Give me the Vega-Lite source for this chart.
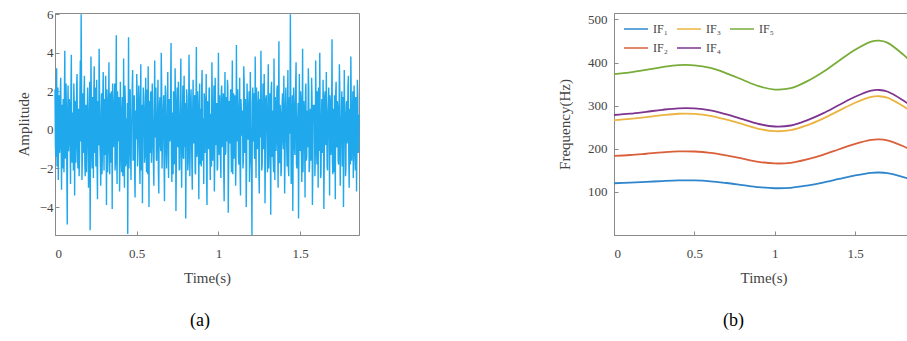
{
"$schema": "https://vega.github.io/schema/vega-lite/v6.json",
"padding": {"left": 15, "top": 7, "right": 0, "bottom": 0},
"spacing": 194,
"config": {
"font": "Liberation Serif",
"view": {"stroke": "#8a8a8a", "strokeWidth": 1},
"axis": {"grid": false, "domainColor": "#8a8a8a", "tickColor": "#8a8a8a", "tickSize": -4, "labelFontSize": 13, "labelColor": "#444444", "titleFontSize": 15, "titleColor": "#444444", "titleFontWeight": "normal", "labelFont": "Liberation Serif", "titleFont": "Liberation Serif"},
"legend": {"labelFont": "Liberation Serif"},
"title": {"font": "Liberation Serif", "fontSize": 18, "fontWeight": "normal", "color": "#000000"}
},
"resolve": {"scale": {"color": "independent"}, "legend": {"color": "independent"}},
"hconcat": [
{
"width": 304, "height": 222,
"title": {"text": "(a)", "orient": "bottom", "offset": 27, "dx": -7},
"data": {"values": [
{"t":0,"a":2.1},{"t":0.005,"a":-1.4},{"t":0.01,"a":3.2},{"t":0.015,"a":0.5},{"t":0.02,"a":-2.6},{"t":0.025,"a":1.8},{"t":0.03,"a":-0.9},{"t":0.035,"a":2.7},{"t":0.04,"a":-3.1},{"t":0.045,"a":0.4},
{"t":0.05,"a":1.6},{"t":0.055,"a":-2.2},{"t":0.06,"a":4.1},{"t":0.065,"a":-1.0},{"t":0.07,"a":0.8},{"t":0.075,"a":-4.9},{"t":0.08,"a":2.3},{"t":0.085,"a":-0.6},{"t":0.09,"a":1.1},{"t":0.095,"a":-2.8},
{"t":0.1,"a":3.9},{"t":0.105,"a":-1.7},{"t":0.11,"a":0.2},{"t":0.115,"a":2.4},{"t":0.12,"a":-3.4},{"t":0.125,"a":1.5},{"t":0.13,"a":-0.3},{"t":0.135,"a":2.9},{"t":0.14,"a":-2.0},{"t":0.145,"a":0.9},
{"t":0.15,"a":-1.5},{"t":0.155,"a":3.6},{"t":0.16,"a":6.0},{"t":0.165,"a":-2.6},{"t":0.17,"a":1.9},{"t":0.175,"a":-1.2},{"t":0.18,"a":2.8},{"t":0.185,"a":-2.4},{"t":0.19,"a":1.3},{"t":0.195,"a":-0.7},
{"t":0.2,"a":2.2},{"t":0.205,"a":-3.0},{"t":0.21,"a":0.7},{"t":0.215,"a":-5.2},{"t":0.22,"a":3.8},{"t":0.225,"a":-1.1},{"t":0.23,"a":1.7},{"t":0.235,"a":-2.5},{"t":0.24,"a":3.3},{"t":0.245,"a":0.1},
{"t":0.25,"a":-1.9},{"t":0.255,"a":2.6},{"t":0.26,"a":-3.6},{"t":0.265,"a":1.2},{"t":0.27,"a":4.2},{"t":0.275,"a":-0.8},{"t":0.28,"a":-2.9},{"t":0.285,"a":1.9},{"t":0.29,"a":-1.3},{"t":0.295,"a":3.0},
{"t":0.3,"a":-2.1},{"t":0.305,"a":0.6},{"t":0.31,"a":2.8},{"t":0.315,"a":-3.9},{"t":0.32,"a":1.4},{"t":0.325,"a":-0.5},{"t":0.33,"a":3.5},{"t":0.335,"a":-2.3},{"t":0.34,"a":0.9},{"t":0.345,"a":2.0},
{"t":0.35,"a":-4.1},{"t":0.355,"a":1.1},{"t":0.36,"a":-0.2},{"t":0.365,"a":2.4},{"t":0.37,"a":-1.6},{"t":0.375,"a":4.9},{"t":0.38,"a":-2.8},{"t":0.385,"a":0.3},{"t":0.39,"a":1.7},{"t":0.395,"a":-3.2},
{"t":0.4,"a":2.5},{"t":0.405,"a":-1.0},{"t":0.41,"a":0.8},{"t":0.415,"a":-2.4},{"t":0.42,"a":3.7},{"t":0.425,"a":-3.0},{"t":0.43,"a":1.6},{"t":0.435,"a":0.2},{"t":0.44,"a":-1.8},{"t":0.445,"a":-5.4},
{"t":0.45,"a":4.8},{"t":0.455,"a":-0.9},{"t":0.46,"a":2.1},{"t":0.465,"a":-2.6},{"t":0.47,"a":0.5},{"t":0.475,"a":3.1},{"t":0.48,"a":-1.4},{"t":0.485,"a":1.8},{"t":0.49,"a":-3.5},{"t":0.495,"a":0.7},
{"t":0.5,"a":2.9},{"t":0.505,"a":-1.9},{"t":0.51,"a":0.4},{"t":0.515,"a":1.5},{"t":0.52,"a":-2.8},{"t":0.525,"a":3.4},{"t":0.53,"a":-0.6},{"t":0.535,"a":-3.8},{"t":0.54,"a":2.2},{"t":0.545,"a":0.9},
{"t":0.55,"a":-1.3},{"t":0.555,"a":2.7},{"t":0.56,"a":-2.2},{"t":0.565,"a":1.0},{"t":0.57,"a":3.3},{"t":0.575,"a":-4.0},{"t":0.58,"a":0.6},{"t":0.585,"a":1.9},{"t":0.59,"a":-1.7},{"t":0.595,"a":2.4},
{"t":0.6,"a":-0.4},{"t":0.605,"a":-2.9},{"t":0.61,"a":3.6},{"t":0.615,"a":1.2},{"t":0.62,"a":-1.5},{"t":0.625,"a":0.3},{"t":0.63,"a":2.6},{"t":0.635,"a":-3.3},{"t":0.64,"a":1.4},{"t":0.645,"a":-0.8},
{"t":0.65,"a":4.0},{"t":0.655,"a":-2.0},{"t":0.66,"a":0.7},{"t":0.665,"a":1.8},{"t":0.67,"a":-3.7},{"t":0.675,"a":2.3},{"t":0.68,"a":-1.1},{"t":0.685,"a":0.5},{"t":0.69,"a":3.0},{"t":0.695,"a":-2.5},
{"t":0.7,"a":1.6},{"t":0.705,"a":-0.3},{"t":0.71,"a":4.5},{"t":0.715,"a":-2.7},{"t":0.72,"a":0.9},{"t":0.725,"a":2.0},{"t":0.73,"a":-1.8},{"t":0.735,"a":3.2},{"t":0.74,"a":-4.2},{"t":0.745,"a":1.3},
{"t":0.75,"a":-0.6},{"t":0.755,"a":2.5},{"t":0.76,"a":-2.1},{"t":0.765,"a":0.4},{"t":0.77,"a":3.7},{"t":0.775,"a":-3.0},{"t":0.78,"a":1.0},{"t":0.785,"a":-1.4},{"t":0.79,"a":2.8},{"t":0.795,"a":-0.9},
{"t":0.8,"a":-4.6},{"t":0.805,"a":2.1},{"t":0.81,"a":0.8},{"t":0.815,"a":-1.7},{"t":0.82,"a":3.9},{"t":0.825,"a":-2.4},{"t":0.83,"a":1.5},{"t":0.835,"a":0.2},{"t":0.84,"a":-3.1},{"t":0.845,"a":2.6},
{"t":0.85,"a":-0.7},{"t":0.855,"a":1.8},{"t":0.86,"a":-2.3},{"t":0.865,"a":4.3},{"t":0.87,"a":-1.2},{"t":0.875,"a":0.6},{"t":0.88,"a":-3.6},{"t":0.885,"a":2.4},{"t":0.89,"a":1.1},{"t":0.895,"a":-1.9},
{"t":0.9,"a":3.1},{"t":0.905,"a":-0.5},{"t":0.91,"a":-2.8},{"t":0.915,"a":1.7},{"t":0.92,"a":0.4},{"t":0.925,"a":2.9},{"t":0.93,"a":-3.9},{"t":0.935,"a":1.2},{"t":0.94,"a":-1.0},{"t":0.945,"a":2.2},
{"t":0.95,"a":-2.6},{"t":0.955,"a":0.8},{"t":0.96,"a":3.5},{"t":0.965,"a":-1.6},{"t":0.97,"a":0.1},{"t":0.975,"a":-3.2},{"t":0.98,"a":2.7},{"t":0.985,"a":-0.8},{"t":0.99,"a":1.4},{"t":0.995,"a":-2.0},
{"t":1.0,"a":4.0},{"t":1.005,"a":-1.3},{"t":1.01,"a":0.6},{"t":1.015,"a":-2.5},{"t":1.02,"a":2.3},{"t":1.025,"a":-0.2},{"t":1.03,"a":1.9},{"t":1.035,"a":-3.7},{"t":1.04,"a":3.0},{"t":1.045,"a":-1.1},
{"t":1.05,"a":0.5},{"t":1.055,"a":2.6},{"t":1.06,"a":-4.3},{"t":1.065,"a":1.5},{"t":1.07,"a":-0.7},{"t":1.075,"a":2.1},{"t":1.08,"a":-2.2},{"t":1.085,"a":3.6},{"t":1.09,"a":0.3},{"t":1.095,"a":-1.5},
{"t":1.1,"a":1.8},{"t":1.105,"a":-2.9},{"t":1.11,"a":4.4},{"t":1.115,"a":-0.6},{"t":1.12,"a":0.9},{"t":1.125,"a":-1.8},{"t":1.13,"a":2.7},{"t":1.135,"a":-3.4},{"t":1.14,"a":1.1},{"t":1.145,"a":0.2},
{"t":1.15,"a":-2.0},{"t":1.155,"a":3.3},{"t":1.16,"a":-1.2},{"t":1.165,"a":1.6},{"t":1.17,"a":-4.0},{"t":1.175,"a":2.4},{"t":1.18,"a":-0.4},{"t":1.185,"a":1.0},{"t":1.19,"a":-2.7},{"t":1.195,"a":3.0},
{"t":1.2,"a":-1.6},{"t":1.205,"a":-5.45},{"t":1.21,"a":2.2},{"t":1.215,"a":0.7},{"t":1.22,"a":-1.3},{"t":1.225,"a":3.8},{"t":1.23,"a":-2.5},{"t":1.235,"a":1.4},{"t":1.24,"a":-0.1},{"t":1.245,"a":2.0},
{"t":1.25,"a":-3.3},{"t":1.255,"a":1.2},{"t":1.26,"a":4.1},{"t":1.265,"a":-2.1},{"t":1.27,"a":0.5},{"t":1.275,"a":-1.0},{"t":1.28,"a":2.9},{"t":1.285,"a":-3.8},{"t":1.29,"a":1.6},{"t":1.295,"a":0.4},
{"t":1.3,"a":-2.2},{"t":1.305,"a":3.4},{"t":1.31,"a":-0.9},{"t":1.315,"a":1.9},{"t":1.32,"a":-4.4},{"t":1.325,"a":2.5},{"t":1.33,"a":0.3},{"t":1.335,"a":-1.5},{"t":1.34,"a":3.7},{"t":1.345,"a":-2.6},
{"t":1.35,"a":1.0},{"t":1.355,"a":-0.4},{"t":1.36,"a":2.3},{"t":1.365,"a":-3.0},{"t":1.37,"a":4.6},{"t":1.375,"a":-1.7},{"t":1.38,"a":0.8},{"t":1.385,"a":-2.1},{"t":1.39,"a":1.5},{"t":1.395,"a":-0.6},
{"t":1.4,"a":2.8},{"t":1.405,"a":-3.3},{"t":1.41,"a":1.2},{"t":1.415,"a":0.1},{"t":1.42,"a":-1.9},{"t":1.425,"a":3.1},{"t":1.43,"a":-2.4},{"t":1.435,"a":1.7},{"t":1.44,"a":6.0},{"t":1.445,"a":-2.8},
{"t":1.45,"a":0.6},{"t":1.455,"a":-4.2},{"t":1.46,"a":2.2},{"t":1.465,"a":-0.8},{"t":1.47,"a":1.4},{"t":1.475,"a":3.5},{"t":1.48,"a":-2.0},{"t":1.485,"a":0.5},{"t":1.49,"a":-4.6},{"t":1.495,"a":2.9},
{"t":1.5,"a":-1.1},{"t":1.505,"a":1.6},{"t":1.51,"a":-2.7},{"t":1.515,"a":4.2},{"t":1.52,"a":-0.3},{"t":1.525,"a":0.9},{"t":1.53,"a":-3.5},{"t":1.535,"a":2.4},{"t":1.54,"a":-1.4},{"t":1.545,"a":1.0},
{"t":1.55,"a":3.2},{"t":1.555,"a":-2.2},{"t":1.56,"a":0.2},{"t":1.565,"a":-1.6},{"t":1.57,"a":2.7},{"t":1.575,"a":-3.9},{"t":1.58,"a":1.3},{"t":1.585,"a":0.6},{"t":1.59,"a":-2.4},{"t":1.595,"a":3.6},
{"t":1.6,"a":-0.7},{"t":1.605,"a":2.0},{"t":1.61,"a":-3.0},{"t":1.615,"a":1.1},{"t":1.62,"a":4.0},{"t":1.625,"a":-2.5},{"t":1.63,"a":0.4},{"t":1.635,"a":-1.2},{"t":1.64,"a":2.6},{"t":1.645,"a":-4.1},
{"t":1.65,"a":1.7},{"t":1.655,"a":-0.5},{"t":1.66,"a":3.0},{"t":1.665,"a":-1.9},{"t":1.67,"a":0.8},{"t":1.675,"a":2.2},{"t":1.68,"a":-3.4},{"t":1.685,"a":1.4},{"t":1.69,"a":-0.9},{"t":1.695,"a":4.7},
{"t":1.7,"a":-2.3},{"t":1.705,"a":0.6},{"t":1.71,"a":1.8},{"t":1.715,"a":-3.6},{"t":1.72,"a":2.5},{"t":1.725,"a":-0.8},{"t":1.73,"a":1.2},{"t":1.735,"a":-1.8},{"t":1.74,"a":3.4},{"t":1.745,"a":-2.9},
{"t":1.75,"a":0.3},{"t":1.755,"a":2.0},{"t":1.76,"a":-1.3},{"t":1.765,"a":-4.0},{"t":1.77,"a":3.1},{"t":1.775,"a":0.7},{"t":1.78,"a":-2.0},{"t":1.785,"a":1.5},{"t":1.79,"a":-0.2},{"t":1.795,"a":2.8},
{"t":1.8,"a":-3.0},{"t":1.805,"a":1.1},{"t":1.81,"a":3.8},{"t":1.815,"a":-1.6},{"t":1.82,"a":0.5},{"t":1.825,"a":-2.5},{"t":1.83,"a":2.3},{"t":1.835,"a":-0.9},{"t":1.84,"a":1.7},{"t":1.845,"a":-3.2},
{"t":1.85,"a":2.6},{"t":1.855,"a":-1.2},{"t":1.86,"a":0.8},
{"t":0.0025,"a":-0.8},{"t":0.0075,"a":1.5},{"t":0.0125,"a":-1.9},{"t":0.0175,"a":2.2},{"t":0.0225,"a":0.6},{"t":0.0275,"a":-1.2},{"t":0.0325,"a":1.9},{"t":0.0375,"a":-0.4},{"t":0.0425,"a":1.3},{"t":0.0475,"a":-2.0},
{"t":0.0525,"a":0.9},{"t":0.0575,"a":1.7},{"t":0.0625,"a":-1.5},{"t":0.0675,"a":2.4},{"t":0.0725,"a":-2.3},{"t":0.0775,"a":0.7},{"t":0.0825,"a":-1.1},{"t":0.0875,"a":1.6},{"t":0.0925,"a":-0.5},{"t":0.0975,"a":2.0},
{"t":0.1025,"a":-1.3},{"t":0.1075,"a":0.9},{"t":0.1125,"a":-2.1},{"t":0.1175,"a":1.4},{"t":0.1225,"a":0.2},{"t":0.1275,"a":-1.7},{"t":0.1325,"a":2.3},{"t":0.1375,"a":-0.9},{"t":0.1425,"a":1.1},{"t":0.1475,"a":-2.4},
{"t":0.1525,"a":1.8},{"t":0.1575,"a":-0.6},{"t":0.1625,"a":2.1},{"t":0.1675,"a":-1.4},{"t":0.1725,"a":0.5},{"t":0.1775,"a":1.9},{"t":0.1825,"a":-1.8},{"t":0.1875,"a":0.8},{"t":0.1925,"a":-2.2},{"t":0.1975,"a":1.2},
{"t":0.2025,"a":0.4},{"t":0.2075,"a":-1.6},{"t":0.2125,"a":2.5},{"t":0.2175,"a":-0.7},{"t":0.2225,"a":1.3},{"t":0.2275,"a":-2.0},{"t":0.2325,"a":0.6},{"t":0.2375,"a":1.8},{"t":0.2425,"a":-1.2},{"t":0.2475,"a":2.2},
{"t":0.2525,"a":-0.3},{"t":0.2575,"a":-1.9},{"t":0.2625,"a":1.5},{"t":0.2675,"a":-0.8},{"t":0.2725,"a":2.0},{"t":0.2775,"a":-1.5},{"t":0.2825,"a":0.9},{"t":0.2875,"a":-2.3},{"t":0.2925,"a":1.7},{"t":0.2975,"a":-0.2},
{"t":0.3025,"a":1.6},{"t":0.3075,"a":-1.3},{"t":0.3125,"a":0.3},{"t":0.3175,"a":2.1},{"t":0.3225,"a":-2.2},{"t":0.3275,"a":0.8},{"t":0.3325,"a":-1.0},{"t":0.3375,"a":1.9},{"t":0.3425,"a":-1.7},{"t":0.3475,"a":0.5},
{"t":0.3525,"a":2.4},{"t":0.3575,"a":-0.9},{"t":0.3625,"a":1.2},{"t":0.3675,"a":-2.1},{"t":0.3725,"a":0.7},{"t":0.3775,"a":-1.4},{"t":0.3825,"a":2.0},{"t":0.3875,"a":-0.6},{"t":0.3925,"a":1.5},{"t":0.3975,"a":-1.8},
{"t":0.4025,"a":0.9},{"t":0.4075,"a":-2.2},{"t":0.4125,"a":1.7},{"t":0.4175,"a":0.1},{"t":0.4225,"a":-1.3},{"t":0.4275,"a":2.3},{"t":0.4325,"a":-1.9},{"t":0.4375,"a":0.6},{"t":0.4425,"a":1.4},{"t":0.4475,"a":-0.7},
{"t":0.4525,"a":-2.0},{"t":0.4575,"a":1.8},{"t":0.4625,"a":-1.1},{"t":0.4675,"a":0.4},{"t":0.4725,"a":2.2},{"t":0.4775,"a":-1.6},{"t":0.4825,"a":0.8},{"t":0.4875,"a":-2.4},{"t":0.4925,"a":1.0},{"t":0.4975,"a":-0.5},
{"t":0.5025,"a":1.9},{"t":0.5075,"a":-0.9},{"t":0.5125,"a":2.3},{"t":0.5175,"a":-1.5},{"t":0.5225,"a":0.6},{"t":0.5275,"a":-2.1},{"t":0.5325,"a":1.3},{"t":0.5375,"a":-0.2},{"t":0.5425,"a":1.8},{"t":0.5475,"a":-1.7},
{"t":0.5525,"a":0.7},{"t":0.5575,"a":-1.0},{"t":0.5625,"a":2.1},{"t":0.5675,"a":-2.3},{"t":0.5725,"a":0.4},{"t":0.5775,"a":1.5},{"t":0.5825,"a":-1.2},{"t":0.5875,"a":2.0},{"t":0.5925,"a":-0.8},{"t":0.5975,"a":1.1},
{"t":0.6025,"a":-1.9},{"t":0.6075,"a":0.8},{"t":0.6125,"a":-0.4},{"t":0.6175,"a":2.2},{"t":0.6225,"a":-1.6},{"t":0.6275,"a":1.0},{"t":0.6325,"a":-2.2},{"t":0.6375,"a":0.5},{"t":0.6425,"a":1.7},{"t":0.6475,"a":-1.1},
{"t":0.6525,"a":2.4},{"t":0.6575,"a":-0.7},{"t":0.6625,"a":1.2},{"t":0.6675,"a":-1.8},{"t":0.6725,"a":0.3},{"t":0.6775,"a":1.9},{"t":0.6825,"a":-2.0},{"t":0.6875,"a":0.9},{"t":0.6925,"a":-1.3},{"t":0.6975,"a":1.5},
{"t":0.7025,"a":-0.6},{"t":0.7075,"a":2.0},{"t":0.7125,"a":-1.4},{"t":0.7175,"a":0.7},{"t":0.7225,"a":-2.3},{"t":0.7275,"a":1.6},{"t":0.7325,"a":-0.1},{"t":0.7375,"a":1.1},{"t":0.7425,"a":-1.7},{"t":0.7475,"a":2.2},
{"t":0.7525,"a":-0.9},{"t":0.7575,"a":0.4},{"t":0.7625,"a":-2.0},{"t":0.7675,"a":1.8},{"t":0.7725,"a":-1.2},{"t":0.7775,"a":0.6},{"t":0.7825,"a":2.3},{"t":0.7875,"a":-1.5},{"t":0.7925,"a":0.2},{"t":0.7975,"a":1.4},
{"t":0.8025,"a":-1.0},{"t":0.8075,"a":1.7},{"t":0.8125,"a":-2.1},{"t":0.8175,"a":0.5},{"t":0.8225,"a":1.2},{"t":0.8275,"a":-0.8},{"t":0.8325,"a":2.1},{"t":0.8375,"a":-1.9},{"t":0.8425,"a":0.9},{"t":0.8475,"a":-0.3},
{"t":0.8525,"a":1.6},{"t":0.8575,"a":-2.2},{"t":0.8625,"a":0.8},{"t":0.8675,"a":-1.4},{"t":0.8725,"a":2.0},{"t":0.8775,"a":-0.7},{"t":0.8825,"a":1.3},{"t":0.8875,"a":-1.8},{"t":0.8925,"a":0.4},{"t":0.8975,"a":2.2},
{"t":0.9025,"a":-1.6},{"t":0.9075,"a":0.6},{"t":0.9125,"a":1.9},{"t":0.9175,"a":-1.2},{"t":0.9225,"a":0.3},{"t":0.9275,"a":-2.4},{"t":0.9325,"a":1.5},{"t":0.9375,"a":-0.5},{"t":0.9425,"a":2.1},{"t":0.9475,"a":-1.0},
{"t":0.9525,"a":0.8},{"t":0.9575,"a":-1.9},{"t":0.9625,"a":1.4},{"t":0.9675,"a":-0.2},{"t":0.9725,"a":2.3},{"t":0.9775,"a":-1.6},{"t":0.9825,"a":0.7},{"t":0.9875,"a":1.2},{"t":0.9925,"a":-2.1},{"t":0.9975,"a":0.9},
{"t":1.0025,"a":-0.4},{"t":1.0075,"a":1.8},{"t":1.0125,"a":-1.5},{"t":1.0175,"a":2.0},{"t":1.0225,"a":-0.9},{"t":1.0275,"a":1.1},{"t":1.0325,"a":-2.2},{"t":1.0375,"a":0.6},{"t":1.0425,"a":-1.3},{"t":1.0475,"a":1.7},
{"t":1.0525,"a":-0.6},{"t":1.0575,"a":2.2},{"t":1.0625,"a":-1.8},{"t":1.0675,"a":0.3},{"t":1.0725,"a":1.5},{"t":1.0775,"a":-1.1},{"t":1.0825,"a":0.9},{"t":1.0875,"a":-2.3},{"t":1.0925,"a":1.9},{"t":1.0975,"a":-0.7},
{"t":1.1025,"a":1.2},{"t":1.1075,"a":-1.7},{"t":1.1125,"a":0.5},{"t":1.1175,"a":2.1},{"t":1.1225,"a":-1.4},{"t":1.1275,"a":0.8},{"t":1.1325,"a":-2.0},{"t":1.1375,"a":1.6},{"t":1.1425,"a":-0.3},{"t":1.1475,"a":1.0},
{"t":1.1525,"a":-1.6},{"t":1.1575,"a":2.3},{"t":1.1625,"a":-0.8},{"t":1.1675,"a":0.4},{"t":1.1725,"a":-1.9},{"t":1.1775,"a":1.3},{"t":1.1825,"a":-0.5},{"t":1.1875,"a":2.0},{"t":1.1925,"a":-1.2},{"t":1.1975,"a":0.7},
{"t":1.2025,"a":-2.1},{"t":1.2075,"a":1.4},{"t":1.2125,"a":-0.6},{"t":1.2175,"a":1.9},{"t":1.2225,"a":-1.5},{"t":1.2275,"a":0.2},{"t":1.2325,"a":2.2},{"t":1.2375,"a":-1.0},{"t":1.2425,"a":0.9},{"t":1.2475,"a":-2.3},
{"t":1.2525,"a":1.6},{"t":1.2575,"a":-0.4},{"t":1.2625,"a":1.1},{"t":1.2675,"a":-1.8},{"t":1.2725,"a":2.4},{"t":1.2775,"a":-0.9},{"t":1.2825,"a":0.5},{"t":1.2875,"a":-1.3},{"t":1.2925,"a":1.8},{"t":1.2975,"a":-0.2},
{"t":1.3025,"a":1.5},{"t":1.3075,"a":-2.0},{"t":1.3125,"a":0.7},{"t":1.3175,"a":-0.9},{"t":1.3225,"a":2.1},{"t":1.3275,"a":-1.4},{"t":1.3325,"a":1.0},{"t":1.3375,"a":-2.2},{"t":1.3425,"a":0.3},{"t":1.3475,"a":1.7},
{"t":1.3525,"a":-1.1},{"t":1.3575,"a":2.0},{"t":1.3625,"a":-0.5},{"t":1.3675,"a":0.8},{"t":1.3725,"a":-1.7},{"t":1.3775,"a":1.3},{"t":1.3825,"a":-2.4},{"t":1.3875,"a":0.6},{"t":1.3925,"a":1.9},{"t":1.3975,"a":-1.0},
{"t":1.4025,"a":0.4},{"t":1.4075,"a":-1.5},{"t":1.4125,"a":2.2},{"t":1.4175,"a":-0.7},{"t":1.4225,"a":1.2},{"t":1.4275,"a":-1.9},{"t":1.4325,"a":0.9},{"t":1.4375,"a":-0.2},{"t":1.4425,"a":1.6},{"t":1.4475,"a":-2.1},
{"t":1.4525,"a":1.8},{"t":1.4575,"a":-0.6},{"t":1.4625,"a":0.5},{"t":1.4675,"a":-1.3},{"t":1.4725,"a":2.3},{"t":1.4775,"a":-1.8},{"t":1.4825,"a":0.7},{"t":1.4875,"a":1.4},{"t":1.4925,"a":-1.0},{"t":1.4975,"a":0.2},
{"t":1.5025,"a":2.0},{"t":1.5075,"a":-1.2},{"t":1.5125,"a":0.6},{"t":1.5175,"a":-2.2},{"t":1.5225,"a":1.5},{"t":1.5275,"a":-0.4},{"t":1.5325,"a":1.9},{"t":1.5375,"a":-1.6},{"t":1.5425,"a":0.8},{"t":1.5475,"a":-0.9},
{"t":1.5525,"a":2.1},{"t":1.5575,"a":-1.9},{"t":1.5625,"a":1.1},{"t":1.5675,"a":-0.3},{"t":1.5725,"a":1.7},{"t":1.5775,"a":-2.0},{"t":1.5825,"a":0.4},{"t":1.5875,"a":1.3},{"t":1.5925,"a":-1.4},{"t":1.5975,"a":0.9},
{"t":1.6025,"a":-1.8},{"t":1.6075,"a":0.7},{"t":1.6125,"a":2.2},{"t":1.6175,"a":-1.1},{"t":1.6225,"a":0.3},{"t":1.6275,"a":-2.3},{"t":1.6325,"a":1.6},{"t":1.6375,"a":-0.6},{"t":1.6425,"a":1.2},{"t":1.6475,"a":-1.5},
{"t":1.6525,"a":2.0},{"t":1.6575,"a":-0.8},{"t":1.6625,"a":0.5},{"t":1.6675,"a":-2.1},{"t":1.6725,"a":1.4},{"t":1.6775,"a":-0.2},{"t":1.6825,"a":1.8},{"t":1.6875,"a":-1.3},{"t":1.6925,"a":0.9},{"t":1.6975,"a":-1.7},
{"t":1.7025,"a":1.1},{"t":1.7075,"a":-2.2},{"t":1.7125,"a":0.6},{"t":1.7175,"a":1.9},{"t":1.7225,"a":-0.9},{"t":1.7275,"a":1.5},{"t":1.7325,"a":-1.6},{"t":1.7375,"a":0.2},{"t":1.7425,"a":2.1},{"t":1.7475,"a":-1.0},
{"t":1.7525,"a":0.8},{"t":1.7575,"a":-1.9},{"t":1.7625,"a":1.7},{"t":1.7675,"a":-0.4},{"t":1.7725,"a":1.0},{"t":1.7775,"a":-2.4},{"t":1.7825,"a":1.3},{"t":1.7875,"a":-0.7},{"t":1.7925,"a":2.2},{"t":1.7975,"a":-1.4},
{"t":1.8025,"a":0.5},{"t":1.8075,"a":-1.8},{"t":1.8125,"a":1.6},{"t":1.8175,"a":-0.3},{"t":1.8225,"a":2.0},{"t":1.8275,"a":-1.2},{"t":1.8325,"a":0.9},{"t":1.8375,"a":-2.1},{"t":1.8425,"a":1.4},{"t":1.8475,"a":-0.6},
{"t":1.8525,"a":1.8},{"t":1.8575,"a":-1.0}
]},
"mark": {"type": "line", "color": "#20a8ec", "strokeWidth": 1.4},
"encoding": {
"x": {"field": "t", "type": "quantitative", "scale": {"domain": [0, 1.86], "nice": false, "zero": false}, "axis": {"title": "Time(s)", "values": [0, 0.5, 1, 1.5], "format": "~g", "labelPadding": 16, "titlePadding": 10, "labelFont": "Liberation Serif"}},
"y": {"field": "a", "type": "quantitative", "scale": {"domain": [-5.45, 6.06], "nice": false, "zero": false}, "axis": {"title": "Amplitude", "values": [-4, -2, 0, 2, 4, 6], "labelPadding": 6, "titlePadding": 8, "labelFont": "Liberation Serif"}}
}
},
{
"width": 299, "height": 222,
"title": {"text": "(b)", "orient": "bottom", "offset": 27, "dx": -30},
"data": {"values": [
{"t":0,"s":"IF₁","f":120},{"t":0.1,"s":"IF₁","f":121.3},{"t":0.2,"s":"IF₁","f":123.2},{"t":0.3,"s":"IF₁","f":125.2},{"t":0.4,"s":"IF₁","f":126.7},{"t":0.5,"s":"IF₁","f":126.6},{"t":0.6,"s":"IF₁","f":124.6},{"t":0.7,"s":"IF₁","f":120.6},{"t":0.8,"s":"IF₁","f":115.8},{"t":0.9,"s":"IF₁","f":111},{"t":1.0,"s":"IF₁","f":108.5},{"t":1.1,"s":"IF₁","f":109.5},{"t":1.2,"s":"IF₁","f":114.6},{"t":1.3,"s":"IF₁","f":121.6},{"t":1.4,"s":"IF₁","f":130},{"t":1.5,"s":"IF₁","f":138.2},{"t":1.6,"s":"IF₁","f":144.3},{"t":1.65,"s":"IF₁","f":145},{"t":1.7,"s":"IF₁","f":143.5},{"t":1.8,"s":"IF₁","f":134.5},{"t":1.86,"s":"IF₁","f":127.5},
{"t":0,"s":"IF₂","f":183.6},{"t":0.1,"s":"IF₂","f":185.6},{"t":0.2,"s":"IF₂","f":188.5},{"t":0.3,"s":"IF₂","f":191.6},{"t":0.4,"s":"IF₂","f":193.9},{"t":0.5,"s":"IF₂","f":193.7},{"t":0.6,"s":"IF₂","f":190.6},{"t":0.7,"s":"IF₂","f":184.5},{"t":0.8,"s":"IF₂","f":177.2},{"t":0.9,"s":"IF₂","f":169.8},{"t":1.0,"s":"IF₂","f":166},{"t":1.1,"s":"IF₂","f":167.5},{"t":1.2,"s":"IF₂","f":175.3},{"t":1.3,"s":"IF₂","f":186},{"t":1.4,"s":"IF₂","f":198.9},{"t":1.5,"s":"IF₂","f":211.4},{"t":1.6,"s":"IF₂","f":220.8},{"t":1.65,"s":"IF₂","f":221.9},{"t":1.7,"s":"IF₂","f":219.6},{"t":1.8,"s":"IF₂","f":205.8},{"t":1.86,"s":"IF₂","f":195.1},
{"t":0,"s":"IF₃","f":266.4},{"t":0.1,"s":"IF₃","f":269.3},{"t":0.2,"s":"IF₃","f":273.5},{"t":0.3,"s":"IF₃","f":277.9},{"t":0.4,"s":"IF₃","f":281.3},{"t":0.5,"s":"IF₃","f":281.1},{"t":0.6,"s":"IF₃","f":276.6},{"t":0.7,"s":"IF₃","f":267.7},{"t":0.8,"s":"IF₃","f":257.1},{"t":0.9,"s":"IF₃","f":246.4},{"t":1.0,"s":"IF₃","f":240.9},{"t":1.1,"s":"IF₃","f":243.1},{"t":1.2,"s":"IF₃","f":254.4},{"t":1.3,"s":"IF₃","f":270},{"t":1.4,"s":"IF₃","f":288.6},{"t":1.5,"s":"IF₃","f":306.8},{"t":1.6,"s":"IF₃","f":320.3},{"t":1.65,"s":"IF₃","f":321.9},{"t":1.7,"s":"IF₃","f":318.6},{"t":1.8,"s":"IF₃","f":298.6},{"t":1.86,"s":"IF₃","f":283.1},
{"t":0,"s":"IF₄","f":278.4},{"t":0.1,"s":"IF₄","f":281.4},{"t":0.2,"s":"IF₄","f":285.8},{"t":0.3,"s":"IF₄","f":290.5},{"t":0.4,"s":"IF₄","f":293.9},{"t":0.5,"s":"IF₄","f":293.7},{"t":0.6,"s":"IF₄","f":289.1},{"t":0.7,"s":"IF₄","f":279.8},{"t":0.8,"s":"IF₄","f":268.7},{"t":0.9,"s":"IF₄","f":257.5},{"t":1.0,"s":"IF₄","f":251.7},{"t":1.1,"s":"IF₄","f":254},{"t":1.2,"s":"IF₄","f":265.9},{"t":1.3,"s":"IF₄","f":282.1},{"t":1.4,"s":"IF₄","f":301.6},{"t":1.5,"s":"IF₄","f":320.6},{"t":1.6,"s":"IF₄","f":334.8},{"t":1.65,"s":"IF₄","f":336.4},{"t":1.7,"s":"IF₄","f":332.9},{"t":1.8,"s":"IF₄","f":312},{"t":1.86,"s":"IF₄","f":295.8},
{"t":0,"s":"IF₅","f":373.2},{"t":0.1,"s":"IF₅","f":377.2},{"t":0.2,"s":"IF₅","f":383.2},{"t":0.3,"s":"IF₅","f":389.4},{"t":0.4,"s":"IF₅","f":394},{"t":0.5,"s":"IF₅","f":393.7},{"t":0.6,"s":"IF₅","f":387.5},{"t":0.7,"s":"IF₅","f":375.1},{"t":0.8,"s":"IF₅","f":360.1},{"t":0.9,"s":"IF₅","f":345.2},{"t":1.0,"s":"IF₅","f":337.4},{"t":1.1,"s":"IF₅","f":340.5},{"t":1.2,"s":"IF₅","f":356.4},{"t":1.3,"s":"IF₅","f":378.2},{"t":1.4,"s":"IF₅","f":404.3},{"t":1.5,"s":"IF₅","f":429.8},{"t":1.6,"s":"IF₅","f":448.8},{"t":1.65,"s":"IF₅","f":451},{"t":1.7,"s":"IF₅","f":446.3},{"t":1.8,"s":"IF₅","f":418.3},{"t":1.86,"s":"IF₅","f":396.5}
]},
"mark": {"type": "line", "strokeWidth": 1.8, "interpolate": "catmull-rom"},
"encoding": {
"x": {"field": "t", "type": "quantitative", "scale": {"domain": [0, 1.86], "nice": false, "zero": false}, "axis": {"title": "Time(s)", "values": [0, 0.5, 1, 1.5], "format": "~g", "labelPadding": 16, "titlePadding": 10, "labelFont": "Liberation Serif"}},
"y": {"field": "f", "type": "quantitative", "scale": {"domain": [0, 515], "nice": false}, "axis": {"title": "Frequency(Hz)", "values": [100, 200, 300, 400, 500], "labelPadding": 11, "titlePadding": 15, "labelFont": "Liberation Serif"}},
"color": {"field": "s", "type": "nominal", "scale": {"domain": ["IF₁", "IF₃", "IF₅", "IF₂", "IF₄"], "range": ["#2f86cc", "#ebb441", "#79ad3a", "#d9603a", "#7e3590"]},
"legend": {"title": null, "orient": "none", "legendX": 6, "legendY": 0, "columns": 3, "direction": "horizontal", "symbolType": "stroke", "symbolSize": 576, "symbolStrokeWidth": 1.5, "labelFontSize": 12, "labelColor": "#444444", "labelFont": "Liberation Serif", "columnPadding": 6, "rowPadding": -2, "padding": 3}}
}
}
]
}
